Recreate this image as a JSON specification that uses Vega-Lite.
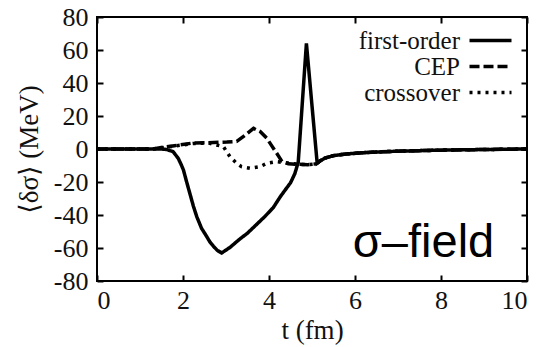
{
  "$schema": "https://vega.github.io/schema/vega-lite/v6.json",
  "width": 430,
  "height": 264,
  "autosize": "none",
  "padding": {"left": 97, "top": 17, "right": 25, "bottom": 66},
  "background": "white",
  "config": {
    "view": {"stroke": "black", "strokeWidth": 2},
    "font": "Liberation Serif, DejaVu Serif, serif",
    "axis": {
      "grid": false,
      "domain": false,
      "ticks": true,
      "tickSize": 6,
      "offset": -6,
      "tickWidth": 2,
      "tickColor": "black",
      "labelFont": "Liberation Serif, DejaVu Serif, serif",
      "labelFontSize": 26,
      "labelColor": "#111",
      "titleFont": "Liberation Serif, DejaVu Serif, serif",
      "titleFontSize": 27,
      "titleFontWeight": "normal",
      "titleColor": "#111"
    },
    "legend": {
      "labelFont": "Liberation Serif, DejaVu Serif, serif",
      "labelFontSize": 25,
      "labelColor": "#111"
    }
  },
  "datasets": {
    "curves": [
      {"series": "first-order", "t": 0, "v": 0},
      {"series": "first-order", "t": 1.0, "v": 0},
      {"series": "first-order", "t": 1.5, "v": 0},
      {"series": "first-order", "t": 1.62, "v": -0.3},
      {"series": "first-order", "t": 1.77, "v": -1.6},
      {"series": "first-order", "t": 1.89, "v": -5.7},
      {"series": "first-order", "t": 1.95, "v": -9},
      {"series": "first-order", "t": 2.01, "v": -12.7},
      {"series": "first-order", "t": 2.08, "v": -19.5},
      {"series": "first-order", "t": 2.16, "v": -27},
      {"series": "first-order", "t": 2.24, "v": -34.5},
      {"series": "first-order", "t": 2.32, "v": -41},
      {"series": "first-order", "t": 2.43, "v": -48},
      {"series": "first-order", "t": 2.55, "v": -53},
      {"series": "first-order", "t": 2.63, "v": -56.5},
      {"series": "first-order", "t": 2.71, "v": -59},
      {"series": "first-order", "t": 2.8, "v": -61.5},
      {"series": "first-order", "t": 2.9, "v": -63},
      {"series": "first-order", "t": 3.1, "v": -59.5},
      {"series": "first-order", "t": 3.3, "v": -55},
      {"series": "first-order", "t": 3.5, "v": -51},
      {"series": "first-order", "t": 3.7, "v": -46},
      {"series": "first-order", "t": 3.9, "v": -41},
      {"series": "first-order", "t": 4.1, "v": -35.5},
      {"series": "first-order", "t": 4.26, "v": -29},
      {"series": "first-order", "t": 4.4, "v": -24},
      {"series": "first-order", "t": 4.5, "v": -20.5},
      {"series": "first-order", "t": 4.6, "v": -15},
      {"series": "first-order", "t": 4.68, "v": -8},
      {"series": "first-order", "t": 4.87, "v": 64},
      {"series": "first-order", "t": 5.12, "v": -8.5},
      {"series": "first-order", "t": 5.2, "v": -7},
      {"series": "first-order", "t": 5.3, "v": -5.5},
      {"series": "first-order", "t": 5.5, "v": -4},
      {"series": "first-order", "t": 5.8, "v": -3},
      {"series": "first-order", "t": 6.2, "v": -2.2},
      {"series": "first-order", "t": 7, "v": -1.3},
      {"series": "first-order", "t": 8, "v": -0.7},
      {"series": "first-order", "t": 9, "v": -0.3},
      {"series": "first-order", "t": 10, "v": 0},

      {"series": "CEP", "t": 0, "v": 0},
      {"series": "CEP", "t": 1.3, "v": 0},
      {"series": "CEP", "t": 1.53, "v": 1},
      {"series": "CEP", "t": 1.8, "v": 2},
      {"series": "CEP", "t": 2.23, "v": 3.6},
      {"series": "CEP", "t": 2.6, "v": 3.8},
      {"series": "CEP", "t": 3.02, "v": 4.2},
      {"series": "CEP", "t": 3.25, "v": 4.6},
      {"series": "CEP", "t": 3.4, "v": 7.5},
      {"series": "CEP", "t": 3.64, "v": 12.5},
      {"series": "CEP", "t": 3.8, "v": 10.5},
      {"series": "CEP", "t": 3.95, "v": 6.5},
      {"series": "CEP", "t": 4.05, "v": 2.5},
      {"series": "CEP", "t": 4.18, "v": -2.6},
      {"series": "CEP", "t": 4.3, "v": -7.5},
      {"series": "CEP", "t": 4.45, "v": -9},
      {"series": "CEP", "t": 4.7, "v": -9.3},
      {"series": "CEP", "t": 4.9, "v": -9.5},
      {"series": "CEP", "t": 5.1, "v": -9},
      {"series": "CEP", "t": 5.2, "v": -7},
      {"series": "CEP", "t": 5.3, "v": -5.5},
      {"series": "CEP", "t": 5.5, "v": -4},
      {"series": "CEP", "t": 5.8, "v": -3},
      {"series": "CEP", "t": 6.2, "v": -2.2},
      {"series": "CEP", "t": 7, "v": -1.3},
      {"series": "CEP", "t": 8, "v": -0.7},
      {"series": "CEP", "t": 9, "v": -0.3},
      {"series": "CEP", "t": 10, "v": 0},

      {"series": "crossover", "t": 0, "v": 0},
      {"series": "crossover", "t": 1.3, "v": 0},
      {"series": "crossover", "t": 1.53, "v": 0.8},
      {"series": "crossover", "t": 1.8, "v": 1.8},
      {"series": "crossover", "t": 2.23, "v": 3.3},
      {"series": "crossover", "t": 2.6, "v": 3.6},
      {"series": "crossover", "t": 2.94, "v": 1.4},
      {"series": "crossover", "t": 3.09, "v": -4.6},
      {"series": "crossover", "t": 3.25, "v": -8.7},
      {"series": "crossover", "t": 3.36, "v": -10.7},
      {"series": "crossover", "t": 3.56, "v": -11.7},
      {"series": "crossover", "t": 3.79, "v": -10.7},
      {"series": "crossover", "t": 3.95, "v": -8.7},
      {"series": "crossover", "t": 4.18, "v": -7.7},
      {"series": "crossover", "t": 4.45, "v": -8.5},
      {"series": "crossover", "t": 4.7, "v": -9.3},
      {"series": "crossover", "t": 4.9, "v": -9.5},
      {"series": "crossover", "t": 5.1, "v": -9},
      {"series": "crossover", "t": 5.2, "v": -7},
      {"series": "crossover", "t": 5.3, "v": -5.5},
      {"series": "crossover", "t": 5.5, "v": -4},
      {"series": "crossover", "t": 5.8, "v": -3},
      {"series": "crossover", "t": 6.2, "v": -2.2},
      {"series": "crossover", "t": 7, "v": -1.3},
      {"series": "crossover", "t": 8, "v": -0.7},
      {"series": "crossover", "t": 9, "v": -0.3},
      {"series": "crossover", "t": 10, "v": 0}
    ],
    "note": [{"label": "σ–field"}]
  },
  "layer": [
    {
      "data": {"name": "curves"},
      "mark": {"type": "line", "color": "black", "strokeWidth": 3.5, "strokeCap": "butt"},
      "encoding": {
        "x": {
          "field": "t", "type": "quantitative",
          "scale": {"domain": [0, 10], "nice": false},
          "axis": {"values": [0, 2, 4, 6, 8, 10], "title": "t (fm)", "labelPadding": 6, "titlePadding": 4, "labelExpr": "'' + datum.value"}
        },
        "y": {
          "field": "v", "type": "quantitative",
          "scale": {"domain": [-80, 80], "nice": false},
          "axis": {"values": [-80, -60, -40, -20, 0, 20, 40, 60, 80], "title": "⟨δσ⟩ (MeV)", "labelPadding": 9, "titlePadding": 10, "labelExpr": "'' + datum.value"}
        },
        "strokeDash": {
          "field": "series", "type": "nominal",
          "scale": {"domain": ["first-order", "CEP", "crossover"], "range": [[1, 0], [10, 4], [3, 5]]},
          "legend": {
            "title": null,
            "orient": "none",
            "legendX": 381,
            "legendY": 11,
            "symbolType": "M-2.1,0H2.1",
            "symbolSize": 400,
            "symbolStrokeWidth": 3.5,
            "symbolStrokeColor": "black",
            "symbolFillColor": "transparent",
            "labelAlign": "right",
            "labelOffset": -43,
            "rowPadding": 0,
            "padding": 0
          }
        }
      }
    },
    {
      "data": {"name": "curves"},
      "mark": {"type": "line", "opacity": 0},
      "encoding": {
        "x": {"field": "t", "type": "quantitative", "axis": {"orient": "top", "values": [0, 2, 4, 6, 8, 10], "labels": false, "title": null}},
        "y": {"field": "v", "type": "quantitative", "axis": {"orient": "right", "values": [-80, -60, -40, -20, 0, 20, 40, 60, 80], "labels": false, "title": null}},
        "detail": {"field": "series"}
      }
    },
    {
      "data": {"name": "note"},
      "mark": {"type": "text", "font": "Liberation Sans", "fontSize": 47, "align": "left", "baseline": "alphabetic", "color": "black"},
      "encoding": {
        "x": {"datum": 5.95, "type": "quantitative", "axis": null},
        "y": {"datum": -65.5, "type": "quantitative", "axis": null},
        "text": {"field": "label"}
      }
    }
  ],
  "resolve": {"axis": {"x": "independent", "y": "independent"}}
}
